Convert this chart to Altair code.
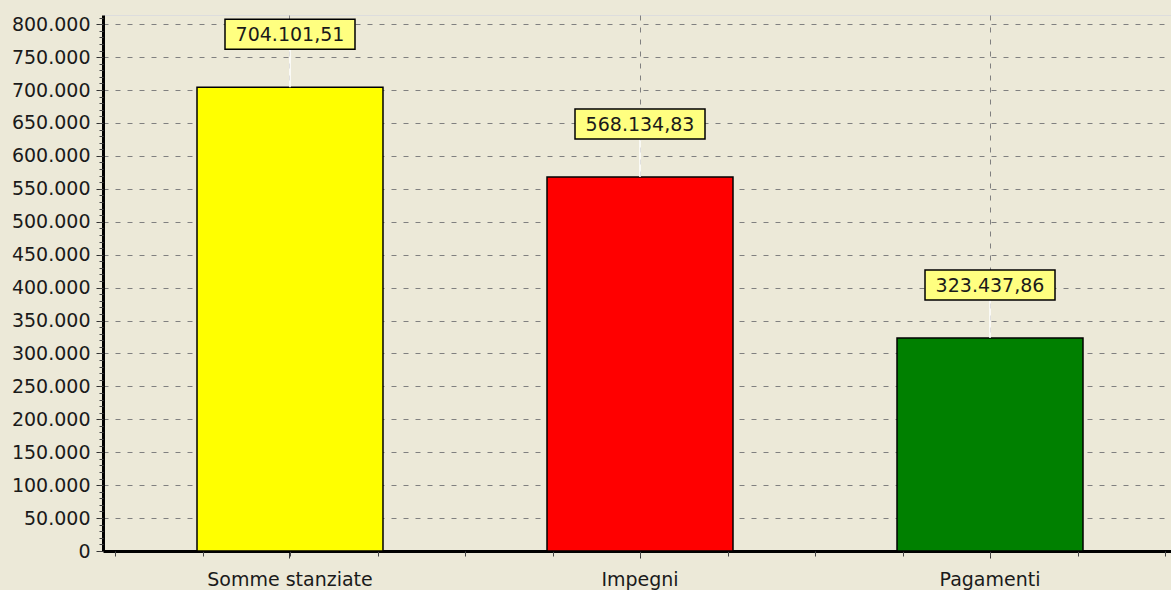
import altair as alt
import pandas as pd

# Budget figures (euro)
categories = ["Somme stanziate", "Impegni", "Pagamenti"]
values = [704101.51, 568134.83, 323437.86]
bar_colors = ["#FFFF00", "#FF0000", "#008000"]

df = pd.DataFrame({
    "cat": categories,
    "value": values,
    "idx": [i + 0.5 for i in range(len(categories))],
})

FONT = "DejaVu Sans"
TEXT = "#1a1a1a"
BG = "#ECE9D8"
W, H = 1068, 536
Y_MAX = 814000
LABEL_LIFT = -53

x_scale = alt.Scale(type="band", paddingInner=0.4686, paddingOuter=0.26, align=0.5165)
y_scale = alt.Scale(domain=[0, Y_MAX], nice=False)

x_main = alt.X(
    "cat:N", sort=categories, scale=x_scale, title=None,
    axis=alt.Axis(
        labelAngle=0, labelFont=FONT, labelFontSize=19, labelColor=TEXT,
        labelPadding=12, tickSize=7, tickColor="#333", tickWidth=1,
        domainColor="black", domainWidth=3,
        grid=True, gridColor="#808080", gridDash=[5, 7], gridWidth=1,
    ),
)
x_plain = alt.X("cat:N", sort=categories, scale=x_scale, axis=None)

y_main = alt.Y(
    "value:Q", scale=y_scale, title=None,
    axis=alt.Axis(
        values=list(range(0, 800001, 50000)), format=",.0f",
        labelFont=FONT, labelFontSize=19, labelColor=TEXT, labelPadding=6,
        tickSize=7, tickColor="#333", tickWidth=1,
        domainColor="black", domainWidth=3,
        grid=True, gridColor="#808080", gridDash=[5, 7], gridWidth=1,
    ),
)
y_plain = alt.Y("value:Q", scale=y_scale, axis=None)

base = alt.Chart(df)

bars = base.mark_bar(stroke="black", strokeWidth=1.5).encode(
    x=x_main,
    y=y_main,
    color=alt.Color("cat:N", scale=alt.Scale(domain=categories, range=bar_colors), legend=None),
)

connector = base.mark_rule(color="white", strokeWidth=1.5, y2Offset=-38).encode(
    x=x_plain, y=y_plain, y2=alt.Y2("value:Q")
)

box_path = "M-1,-0.2308H1V0.2308H-1Z"
boxes = base.mark_point(
    shape=box_path, size=130 * 130, filled=True, fill="#FFFF80",
    stroke="black", strokeWidth=1.5, opacity=1, yOffset=LABEL_LIFT,
).encode(x=x_plain, y=y_plain)

texts = base.mark_text(
    font=FONT, fontSize=19, color=TEXT, yOffset=LABEL_LIFT + 1,
).encode(x=x_plain, y=y_plain, text=alt.Text("value:Q", format=",.2f"))

# minor ticks on both axes (quarter-category steps along x)
minor_y = base.mark_point(opacity=0).encode(
    y=alt.Y(
        "value:Q", scale=y_scale, title=None,
        axis=alt.Axis(
            orient="left", values=list(range(0, 810001, 10000)), labels=False,
            grid=False, domain=False, tickSize=4, tickColor="#444", tickWidth=1,
        ),
    )
)
minor_x = base.mark_point(opacity=0).encode(
    x=alt.X(
        "idx:Q", scale=alt.Scale(domain=[-0.0343, 3.0171], nice=False, zero=False), title=None,
        axis=alt.Axis(
            orient="bottom", values=[i / 4 for i in range(13)], labels=False,
            grid=False, domain=False, tickSize=5, tickColor="#444", tickWidth=1,
        ),
    ),
    y=y_plain,
)

chart = (
    alt.layer(bars, connector, boxes, texts, minor_y, minor_x)
    .resolve_scale(x="independent")
    .resolve_axis(y="independent")
    .properties(
        width=W, height=H,
        autosize=alt.AutoSizeParams(type="none"),
        padding={"left": 103, "top": 15, "right": 0, "bottom": 39},
        background=BG,
    )
    .configure_view(fill=BG, stroke="#333", strokeWidth=1.5)
    .configure(locale={
        "number": {"decimal": ",", "thousands": ".", "grouping": [3], "currency": ["€", ""]}
    })
)

chart.save("out.html", embed_options={"renderer": "svg", "actions": False})
